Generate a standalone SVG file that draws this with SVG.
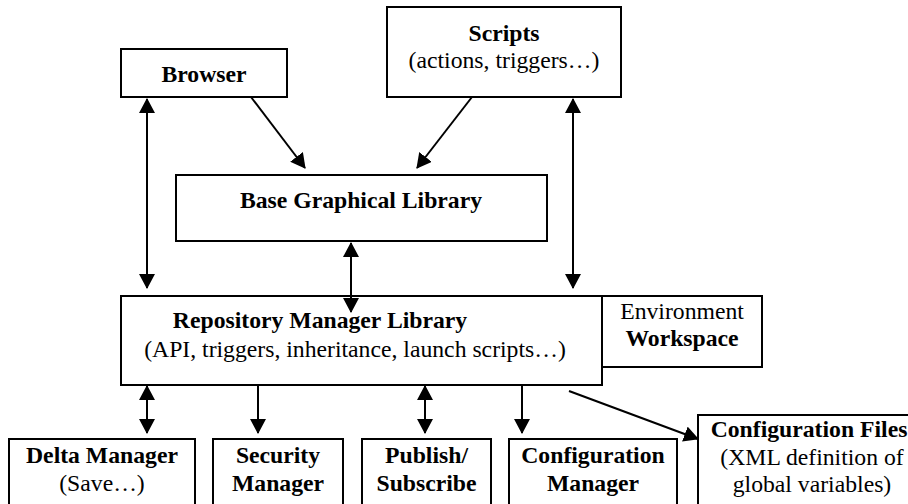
<svg xmlns="http://www.w3.org/2000/svg" width="908" height="504" viewBox="0 0 908 504">
<style>
.box{fill:#fff;stroke:#000;stroke-width:2}
.b{font-family:"Liberation Serif","Times New Roman",serif;font-size:23.7px;font-weight:bold;fill:#000;text-anchor:middle}
.r{font-family:"Liberation Serif","Times New Roman",serif;font-size:23.7px;fill:#000;text-anchor:middle}
.c{fill:none;stroke:#000;stroke-width:2}
</style>
<defs>
<marker id="ah" markerUnits="userSpaceOnUse" markerWidth="15" markerHeight="16" viewBox="0 0 15 16" refX="14" refY="8" orient="auto-start-reverse">
<path d="M0,0 L15,8 L0,16 z" fill="#000"/>
</marker>
</defs>
<rect width="908" height="504" fill="#fff"/>
<g id="browser"><rect class="box" x="121" y="49" width="166" height="48"/><text class="b" x="204" y="82">Browser</text></g>
<g id="scripts"><rect class="box" x="387" y="7" width="234" height="90"/><text class="b" x="504" y="41">Scripts</text><text class="r" x="504" y="68">(actions, triggers…)</text></g>
<g id="bgl"><rect class="box" x="176" y="175" width="371" height="66"/><text class="b" x="361" y="208">Base Graphical Library</text></g>
<g id="repo"><rect class="box" x="121" y="296" width="481" height="89"/><text class="b" x="320" y="328">Repository Manager Library</text><text class="r" x="355" y="357">(API, triggers, inheritance, launch scripts…)</text></g>
<g id="env"><rect class="box" x="602" y="296" width="160" height="71"/><text class="r" x="682" y="319">Environment</text><text class="b" x="682" y="346">Workspace</text></g>
<g id="delta"><rect class="box" x="9" y="439" width="186" height="70"/><text class="b" x="102" y="463">Delta Manager</text><text class="r" x="102" y="491">(Save…)</text></g>
<g id="security"><rect class="box" x="213" y="439" width="130" height="70"/><text class="b" x="278" y="463">Security</text><text class="b" x="278" y="491">Manager</text></g>
<g id="pubsub"><rect class="box" x="362" y="439" width="129" height="70"/><text class="b" x="426.5" y="463">Publish/</text><text class="b" x="426.5" y="491">Subscribe</text></g>
<g id="confmgr"><rect class="box" x="509" y="439" width="168" height="70"/><text class="b" x="593" y="463">Configuration</text><text class="b" x="593" y="491">Manager</text></g>
<g id="conffiles"><rect class="box" x="698" y="415" width="230" height="94"/><text class="b" x="809" y="437">Configuration Files</text><text class="r" x="812" y="465">(XML definition of</text><text class="r" x="812" y="492">global variables)</text></g>
<g id="connectors">
<path class="c" d="M147,99 L147,288" marker-start="url(#ah)" marker-end="url(#ah)"/>
<path class="c" d="M251,97 L305,168" marker-end="url(#ah)"/>
<path class="c" d="M472,97 L417,168" marker-end="url(#ah)"/>
<path class="c" d="M573,99 L573,288" marker-start="url(#ah)" marker-end="url(#ah)"/>
<path class="c" d="M351,243 L351,312" marker-start="url(#ah)" marker-end="url(#ah)"/>
<path class="c" d="M147,386 L147,433" marker-start="url(#ah)" marker-end="url(#ah)"/>
<path class="c" d="M258,385 L258,433" marker-end="url(#ah)"/>
<path class="c" d="M425,386 L425,433" marker-start="url(#ah)" marker-end="url(#ah)"/>
<path class="c" d="M522,385 L522,433" marker-end="url(#ah)"/>
<path class="c" d="M569,391 L698,439" marker-end="url(#ah)"/>
</g>
</svg>
